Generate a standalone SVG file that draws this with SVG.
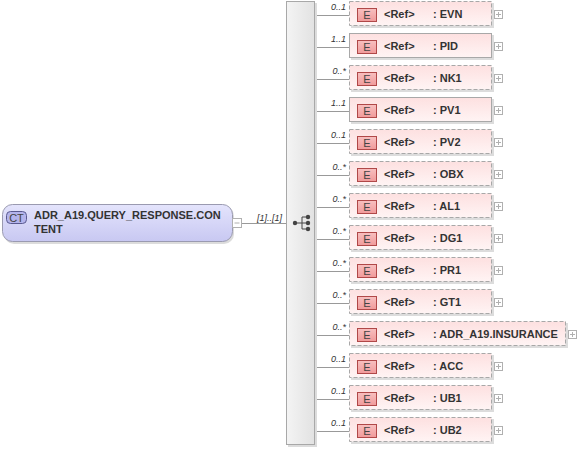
<svg xmlns="http://www.w3.org/2000/svg" width="578" height="449" viewBox="0 0 578 449">
<defs>
<linearGradient id="gEl" x1="0" y1="0" x2="0" y2="1"><stop offset="0" stop-color="#fde0e0"/><stop offset="1" stop-color="#fff4f4"/></linearGradient>
<linearGradient id="gCT" x1="0" y1="0" x2="0" y2="1"><stop offset="0" stop-color="#e4e4fc"/><stop offset="1" stop-color="#c8c8f2"/></linearGradient>
<linearGradient id="gSeq" x1="0" y1="0" x2="1" y2="0"><stop offset="0" stop-color="#f4f4f4"/><stop offset="1" stop-color="#e2e2e2"/></linearGradient>
<linearGradient id="gE" x1="0" y1="0" x2="0" y2="1"><stop offset="0" stop-color="#f8c0c0"/><stop offset="1" stop-color="#f09a9a"/></linearGradient>
</defs>
<style>
.sh{fill:#dcdcdc;}
.el{fill:url(#gEl);stroke:#a8a8a8;stroke-width:1;}
.opt{stroke-dasharray:4,2;}
.eb{fill:url(#gE);stroke:#b04848;stroke-width:1;}
.et{font-family:"Liberation Sans",Arial,sans-serif;font-size:11px;fill:#444;}
.t{font-family:"Liberation Sans",Arial,sans-serif;font-size:11px;font-weight:bold;fill:#333;}
.c{font-family:"Liberation Sans",Arial,sans-serif;font-size:9px;font-style:italic;fill:#333;}
.pb{fill:#fff;stroke:#b0b0b0;stroke-width:1;}
.pl{stroke:#b0b0b0;stroke-width:1;}
.ln{stroke:#999;stroke-width:1;fill:none;}
</style>
<g id="connectors">
<line class="ln" x1="242" y1="223.5" x2="286" y2="223.5"/>
<text class="c" x="257" y="221">[1]..[1]</text>
<line class="ln" x1="315" y1="15.5" x2="349" y2="15.5"/>
<line class="ln" x1="315" y1="47.5" x2="349" y2="47.5"/>
<line class="ln" x1="315" y1="79.5" x2="349" y2="79.5"/>
<line class="ln" x1="315" y1="111.5" x2="349" y2="111.5"/>
<line class="ln" x1="315" y1="143.5" x2="349" y2="143.5"/>
<line class="ln" x1="315" y1="175.5" x2="349" y2="175.5"/>
<line class="ln" x1="315" y1="207.5" x2="349" y2="207.5"/>
<line class="ln" x1="315" y1="239.5" x2="349" y2="239.5"/>
<line class="ln" x1="315" y1="271.5" x2="349" y2="271.5"/>
<line class="ln" x1="315" y1="303.5" x2="349" y2="303.5"/>
<line class="ln" x1="315" y1="335.5" x2="349" y2="335.5"/>
<line class="ln" x1="315" y1="367.5" x2="349" y2="367.5"/>
<line class="ln" x1="315" y1="399.5" x2="349" y2="399.5"/>
<line class="ln" x1="315" y1="431.5" x2="349" y2="431.5"/>
<g text-anchor="end">
<text class="c" x="346" y="10">0..1</text>
<text class="c" x="346" y="42">1..1</text>
<text class="c" x="346" y="74">0..*</text>
<text class="c" x="346" y="106">1..1</text>
<text class="c" x="346" y="138">0..1</text>
<text class="c" x="346" y="170">0..*</text>
<text class="c" x="346" y="202">0..*</text>
<text class="c" x="346" y="234">0..*</text>
<text class="c" x="346" y="266">0..*</text>
<text class="c" x="346" y="298">0..*</text>
<text class="c" x="346" y="330">0..*</text>
<text class="c" x="346" y="362">0..1</text>
<text class="c" x="346" y="394">0..1</text>
<text class="c" x="346" y="426">0..1</text>
</g>
</g>
<g id="root">
<rect x="4" y="206" width="230" height="38" rx="10" class="sh"/>
<rect x="2.5" y="204.5" width="230" height="37" rx="10" fill="url(#gCT)" stroke="#9a9ab0"/>
<rect x="6.5" y="211.5" width="20" height="12" rx="4" fill="#b4b4ec" stroke="#5a5a90"/>
<text x="16.5" y="221.5" text-anchor="middle" class="et" fill="#333">CT</text>
<text class="t" x="34" y="218.5">ADR_A19.QUERY_RESPONSE.CON</text>
<text class="t" x="34" y="232.5">TENT</text>
<rect class="pb" x="232.5" y="218.5" width="9" height="9"/>
<line class="pl" x1="234.5" y1="223" x2="239.5" y2="223"/>
</g>
<g id="sequence">
<rect x="288" y="3" width="29" height="444" class="sh"/>
<rect x="286.5" y="1.5" width="28" height="443" fill="url(#gSeq)" stroke="#a8a8a8"/>
<g fill="#444" stroke="#444" stroke-width="1">
<line x1="295" y1="223" x2="302" y2="223"/>
<line x1="302" y1="217" x2="302" y2="229"/>
<line x1="302" y1="217" x2="308" y2="217"/>
<line x1="302" y1="229" x2="308" y2="229"/>
<line x1="302" y1="223" x2="308" y2="223"/>
<circle cx="295" cy="223" r="2.2" stroke="none"/>
<circle cx="308" cy="217" r="2.2" stroke="none"/>
<circle cx="308" cy="223" r="2.2" stroke="none"/>
<circle cx="308" cy="229" r="2.2" stroke="none"/>
</g>
</g>
<g id="n-EVN" transform="translate(0,1)">
<rect x="351" y="2" width="143" height="25" class="sh"/>
<rect class="el opt" x="349.5" y="0.5" width="142" height="24"/>
<rect class="eb" x="357.5" y="7.5" width="19" height="13"/>
<text class="et" x="367" y="18" text-anchor="middle">E</text>
<text class="t" x="384" y="16.5">&lt;Ref&gt;</text>
<text class="t" x="433" y="16.5">: EVN</text>
<rect class="pb" x="494.5" y="9.5" width="8" height="8"/>
<line class="pl" x1="496" y1="13.5" x2="501" y2="13.5"/><line class="pl" x1="498.5" y1="11" x2="498.5" y2="16"/>
</g>
<g id="n-PID" transform="translate(0,33)">
<rect x="351" y="2" width="143" height="25" class="sh"/>
<rect class="el" x="349.5" y="0.5" width="142" height="24"/>
<rect class="eb" x="357.5" y="7.5" width="19" height="13"/>
<text class="et" x="367" y="18" text-anchor="middle">E</text>
<text class="t" x="384" y="16.5">&lt;Ref&gt;</text>
<text class="t" x="433" y="16.5">: PID</text>
<rect class="pb" x="494.5" y="9.5" width="8" height="8"/>
<line class="pl" x1="496" y1="13.5" x2="501" y2="13.5"/><line class="pl" x1="498.5" y1="11" x2="498.5" y2="16"/>
</g>
<g id="n-NK1" transform="translate(0,65)">
<rect x="351" y="2" width="143" height="25" class="sh"/>
<rect class="el opt" x="349.5" y="0.5" width="142" height="24"/>
<rect class="eb" x="357.5" y="7.5" width="19" height="13"/>
<text class="et" x="367" y="18" text-anchor="middle">E</text>
<text class="t" x="384" y="16.5">&lt;Ref&gt;</text>
<text class="t" x="433" y="16.5">: NK1</text>
<rect class="pb" x="494.5" y="9.5" width="8" height="8"/>
<line class="pl" x1="496" y1="13.5" x2="501" y2="13.5"/><line class="pl" x1="498.5" y1="11" x2="498.5" y2="16"/>
</g>
<g id="n-PV1" transform="translate(0,97)">
<rect x="351" y="2" width="143" height="25" class="sh"/>
<rect class="el" x="349.5" y="0.5" width="142" height="24"/>
<rect class="eb" x="357.5" y="7.5" width="19" height="13"/>
<text class="et" x="367" y="18" text-anchor="middle">E</text>
<text class="t" x="384" y="16.5">&lt;Ref&gt;</text>
<text class="t" x="433" y="16.5">: PV1</text>
<rect class="pb" x="494.5" y="9.5" width="8" height="8"/>
<line class="pl" x1="496" y1="13.5" x2="501" y2="13.5"/><line class="pl" x1="498.5" y1="11" x2="498.5" y2="16"/>
</g>
<g id="n-PV2" transform="translate(0,129)">
<rect x="351" y="2" width="143" height="25" class="sh"/>
<rect class="el opt" x="349.5" y="0.5" width="142" height="24"/>
<rect class="eb" x="357.5" y="7.5" width="19" height="13"/>
<text class="et" x="367" y="18" text-anchor="middle">E</text>
<text class="t" x="384" y="16.5">&lt;Ref&gt;</text>
<text class="t" x="433" y="16.5">: PV2</text>
<rect class="pb" x="494.5" y="9.5" width="8" height="8"/>
<line class="pl" x1="496" y1="13.5" x2="501" y2="13.5"/><line class="pl" x1="498.5" y1="11" x2="498.5" y2="16"/>
</g>
<g id="n-OBX" transform="translate(0,161)">
<rect x="351" y="2" width="143" height="25" class="sh"/>
<rect class="el opt" x="349.5" y="0.5" width="142" height="24"/>
<rect class="eb" x="357.5" y="7.5" width="19" height="13"/>
<text class="et" x="367" y="18" text-anchor="middle">E</text>
<text class="t" x="384" y="16.5">&lt;Ref&gt;</text>
<text class="t" x="433" y="16.5">: OBX</text>
<rect class="pb" x="494.5" y="9.5" width="8" height="8"/>
<line class="pl" x1="496" y1="13.5" x2="501" y2="13.5"/><line class="pl" x1="498.5" y1="11" x2="498.5" y2="16"/>
</g>
<g id="n-AL1" transform="translate(0,193)">
<rect x="351" y="2" width="143" height="25" class="sh"/>
<rect class="el opt" x="349.5" y="0.5" width="142" height="24"/>
<rect class="eb" x="357.5" y="7.5" width="19" height="13"/>
<text class="et" x="367" y="18" text-anchor="middle">E</text>
<text class="t" x="384" y="16.5">&lt;Ref&gt;</text>
<text class="t" x="433" y="16.5">: AL1</text>
<rect class="pb" x="494.5" y="9.5" width="8" height="8"/>
<line class="pl" x1="496" y1="13.5" x2="501" y2="13.5"/><line class="pl" x1="498.5" y1="11" x2="498.5" y2="16"/>
</g>
<g id="n-DG1" transform="translate(0,225)">
<rect x="351" y="2" width="143" height="25" class="sh"/>
<rect class="el opt" x="349.5" y="0.5" width="142" height="24"/>
<rect class="eb" x="357.5" y="7.5" width="19" height="13"/>
<text class="et" x="367" y="18" text-anchor="middle">E</text>
<text class="t" x="384" y="16.5">&lt;Ref&gt;</text>
<text class="t" x="433" y="16.5">: DG1</text>
<rect class="pb" x="494.5" y="9.5" width="8" height="8"/>
<line class="pl" x1="496" y1="13.5" x2="501" y2="13.5"/><line class="pl" x1="498.5" y1="11" x2="498.5" y2="16"/>
</g>
<g id="n-PR1" transform="translate(0,257)">
<rect x="351" y="2" width="143" height="25" class="sh"/>
<rect class="el opt" x="349.5" y="0.5" width="142" height="24"/>
<rect class="eb" x="357.5" y="7.5" width="19" height="13"/>
<text class="et" x="367" y="18" text-anchor="middle">E</text>
<text class="t" x="384" y="16.5">&lt;Ref&gt;</text>
<text class="t" x="433" y="16.5">: PR1</text>
<rect class="pb" x="494.5" y="9.5" width="8" height="8"/>
<line class="pl" x1="496" y1="13.5" x2="501" y2="13.5"/><line class="pl" x1="498.5" y1="11" x2="498.5" y2="16"/>
</g>
<g id="n-GT1" transform="translate(0,289)">
<rect x="351" y="2" width="143" height="25" class="sh"/>
<rect class="el opt" x="349.5" y="0.5" width="142" height="24"/>
<rect class="eb" x="357.5" y="7.5" width="19" height="13"/>
<text class="et" x="367" y="18" text-anchor="middle">E</text>
<text class="t" x="384" y="16.5">&lt;Ref&gt;</text>
<text class="t" x="433" y="16.5">: GT1</text>
<rect class="pb" x="494.5" y="9.5" width="8" height="8"/>
<line class="pl" x1="496" y1="13.5" x2="501" y2="13.5"/><line class="pl" x1="498.5" y1="11" x2="498.5" y2="16"/>
</g>
<g id="n-INSURANCE" transform="translate(0,321)">
<rect x="351" y="2" width="217" height="25" class="sh"/>
<rect class="el opt" x="349.5" y="0.5" width="216" height="24"/>
<rect class="eb" x="357.5" y="7.5" width="19" height="13"/>
<text class="et" x="367" y="18" text-anchor="middle">E</text>
<text class="t" x="384" y="16.5">&lt;Ref&gt;</text>
<text class="t" x="433" y="16.5">: ADR_A19.INSURANCE</text>
<rect class="pb" x="568.5" y="9.5" width="8" height="8"/>
<line class="pl" x1="570" y1="13.5" x2="575" y2="13.5"/><line class="pl" x1="572.5" y1="11" x2="572.5" y2="16"/>
</g>
<g id="n-ACC" transform="translate(0,353)">
<rect x="351" y="2" width="143" height="25" class="sh"/>
<rect class="el opt" x="349.5" y="0.5" width="142" height="24"/>
<rect class="eb" x="357.5" y="7.5" width="19" height="13"/>
<text class="et" x="367" y="18" text-anchor="middle">E</text>
<text class="t" x="384" y="16.5">&lt;Ref&gt;</text>
<text class="t" x="433" y="16.5">: ACC</text>
<rect class="pb" x="494.5" y="9.5" width="8" height="8"/>
<line class="pl" x1="496" y1="13.5" x2="501" y2="13.5"/><line class="pl" x1="498.5" y1="11" x2="498.5" y2="16"/>
</g>
<g id="n-UB1" transform="translate(0,385)">
<rect x="351" y="2" width="143" height="25" class="sh"/>
<rect class="el opt" x="349.5" y="0.5" width="142" height="24"/>
<rect class="eb" x="357.5" y="7.5" width="19" height="13"/>
<text class="et" x="367" y="18" text-anchor="middle">E</text>
<text class="t" x="384" y="16.5">&lt;Ref&gt;</text>
<text class="t" x="433" y="16.5">: UB1</text>
<rect class="pb" x="494.5" y="9.5" width="8" height="8"/>
<line class="pl" x1="496" y1="13.5" x2="501" y2="13.5"/><line class="pl" x1="498.5" y1="11" x2="498.5" y2="16"/>
</g>
<g id="n-UB2" transform="translate(0,417)">
<rect x="351" y="2" width="143" height="25" class="sh"/>
<rect class="el opt" x="349.5" y="0.5" width="142" height="24"/>
<rect class="eb" x="357.5" y="7.5" width="19" height="13"/>
<text class="et" x="367" y="18" text-anchor="middle">E</text>
<text class="t" x="384" y="16.5">&lt;Ref&gt;</text>
<text class="t" x="433" y="16.5">: UB2</text>
<rect class="pb" x="494.5" y="9.5" width="8" height="8"/>
<line class="pl" x1="496" y1="13.5" x2="501" y2="13.5"/><line class="pl" x1="498.5" y1="11" x2="498.5" y2="16"/>
</g>
</svg>
